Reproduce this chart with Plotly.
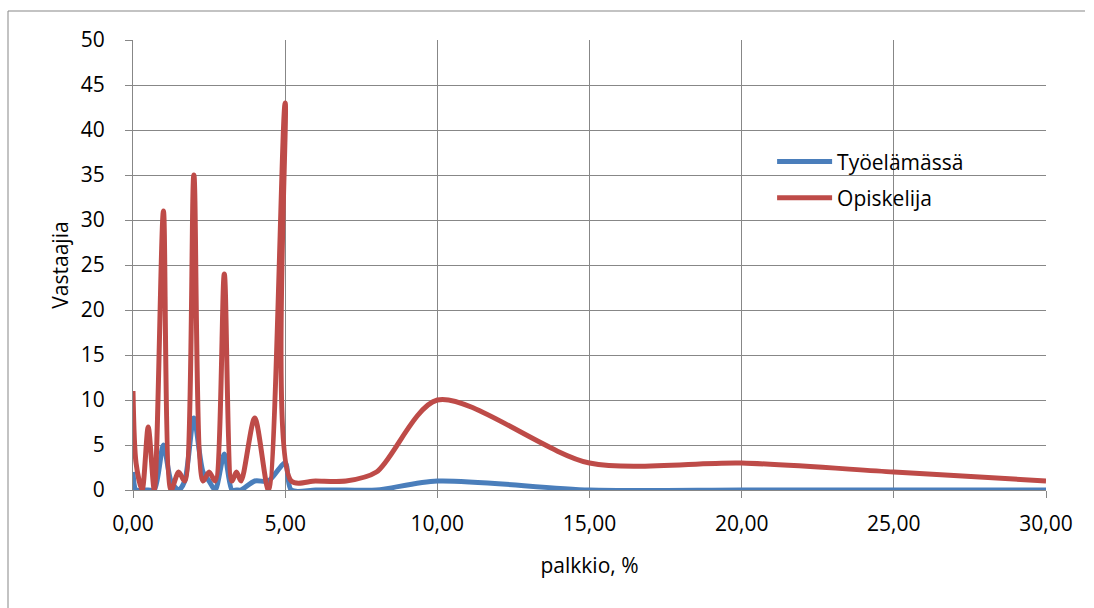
import plotly.graph_objects as go

# Data
x_values = [0, 0.1, 0.3, 0.5, 0.7, 1, 1.25, 1.5, 1.7, 2, 2.3, 2.5, 2.7, 3, 3.25, 3.4, 3.55, 4, 4.45, 5,
            5.2, 6, 7, 8, 10, 15, 20, 25, 30]
tyoelamassa = [2, 0, 0, 0, 0, 5, 1, 0, 1, 8, 2, 1, 0, 4, 0, 0, 0, 1, 1, 3,
               0, 0, 0, 0, 1, 0, 0, 0, 0]
opiskelija = [11, 3, 0, 7, 0, 31, 0, 2, 1, 35, 1, 2, 1, 24, 1, 2, 1, 8, 0, 43,
              1, 1, 1, 2, 10, 3, 3, 2, 1]
series_names = ["Työelämässä", "Opiskelija"]
y_ticks = list(range(0, 51, 5))
x_ticks = list(range(0, 31, 5))

BLUE = "#4A7EBB"
RED = "#BE4B48"
GRID = "#878787"
FONT = "Open Sans"

fig = go.Figure()
fig.add_trace(go.Scatter(
    x=x_values, y=tyoelamassa, name=series_names[0], mode="lines",
    line=dict(color=BLUE, width=5, shape="spline", smoothing=0.8),
    legendgroup="a",
))
fig.add_trace(go.Scatter(
    x=x_values, y=opiskelija, name=series_names[1], mode="lines",
    line=dict(color=RED, width=5, shape="spline", smoothing=0.8),
    legendgroup="b",
))

fig.update_layout(
    width=1094, height=608,
    margin=dict(l=133, r=48, t=40, b=118, autoexpand=False),
    paper_bgcolor="white", plot_bgcolor="white",
    separators=", ",
    font=dict(family=FONT, size=21, color="black"),
    showlegend=True,
    legend=dict(
        x=0.70, y=0.775, xanchor="left", yanchor="top",
        bgcolor="rgba(0,0,0,0)", font=dict(size=21, family=FONT),
        tracegroupgap=6, itemwidth=55,
    ),
    xaxis=dict(
        range=[0, 30], tickmode="array", tickvals=x_ticks, tickformat=".2f",
        showgrid=True, gridcolor=GRID, gridwidth=1,
        showline=True, linecolor=GRID, linewidth=1,
        ticks="outside", ticklen=7, tickcolor=GRID,
        zeroline=False, ticklabelstandoff=8,
        title=dict(text="palkkio, %", standoff=22, font=dict(size=21)),
        tickfont=dict(size=21),
    ),
    yaxis=dict(
        range=[0, 50], tickmode="array", tickvals=y_ticks,
        showgrid=True, gridcolor=GRID, gridwidth=1,
        showline=True, linecolor=GRID, linewidth=1,
        ticks="outside", ticklen=7, tickcolor=GRID,
        zeroline=False, ticklabelstandoff=16,
        title=dict(text="Vastaajia", standoff=6, font=dict(size=21)),
        tickfont=dict(size=21),
    ),
    shapes=[
        dict(type="line", xref="paper", yref="paper",
             x0=(8 - 133) / 913, x1=(8 - 133) / 913, y0=(490 - 11) / 450, y1=(490 - 620) / 450,
             line=dict(color=GRID, width=1)),
        dict(type="line", xref="paper", yref="paper",
             x0=(8 - 133) / 913, x1=(1085 - 133) / 913, y0=(490 - 11) / 450, y1=(490 - 11) / 450,
             line=dict(color=GRID, width=1)),
    ],
)

fig.write_html("out.html")
